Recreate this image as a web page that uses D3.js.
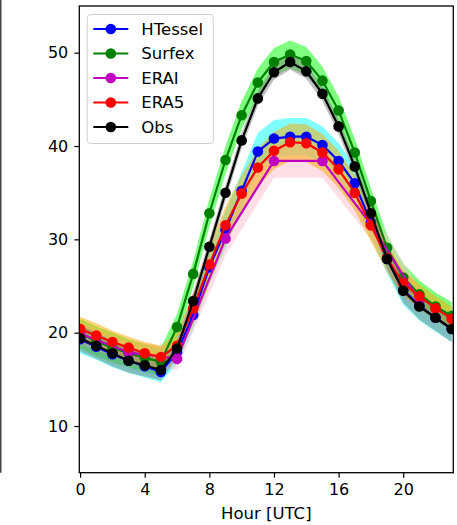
<!DOCTYPE html>
<html>
<head>
<meta charset="utf-8">
<script src="https://cdn.jsdelivr.net/npm/d3@7"></script>
<style>
  html, body { margin: 0; padding: 0; background: #fff; }
  svg { display: block; font-family: "DejaVu Sans", sans-serif; }
</style>
</head>
<body>
<svg id="chart" width="457" height="525"></svg>
<script>
// Hourly 2 m temperature diurnal cycle: model runs vs observations
const hours = d3.range(0, 24);
const hours3 = [0, 3, 6, 9, 12, 15, 18, 21];

const htessel = [19.3, 18.5, 17.7, 17.0, 16.4, 15.8, 17.9, 21.9, 27.0, 31.0, 35.2, 39.4,
                 40.8, 41.0, 41.0, 40.1, 38.4, 36.0, 31.8, 27.9, 24.6, 22.9, 21.6, 20.4];
const surfex  = [19.9, 19.1, 18.4, 17.8, 17.3, 16.9, 20.6, 26.3, 32.8, 38.5, 43.3, 46.8,
                 49.0, 49.8, 49.1, 47.0, 43.8, 39.3, 34.1, 29.1, 25.9, 24.1, 22.8, 21.8];
const erai    = [19.9, 17.9, 17.2, 30.1, 38.4, 38.4, 31.6, 23.4];
const era5    = [20.4, 19.7, 19.0, 18.4, 17.8, 17.4, 18.6, 22.6, 27.3, 31.5, 34.9, 37.7,
                 39.5, 40.4, 40.3, 39.3, 37.5, 35.0, 31.5, 28.0, 25.3, 23.9, 22.6, 21.5];
const obs     = [19.4, 18.6, 17.8, 17.0, 16.5, 16.0, 18.3, 23.4, 29.2, 35.0, 40.6, 45.1,
                 47.9, 49.0, 48.0, 45.6, 42.1, 37.8, 32.8, 27.9, 24.5, 22.8, 21.6, 20.4];

// Spread (half width of the shaded band) for each series
const htesselSpread = [1.5, 1.4, 1.4, 1.3, 1.2, 1.1, 1.2, 1.5, 1.8, 2.0, 2.0, 2.0,
                       2.0, 2.0, 2.0, 2.0, 1.9, 1.8, 1.6, 1.5, 1.6, 1.6, 1.5, 1.4];
const surfexSpread  = [1.6, 1.6, 1.6, 1.5, 1.5, 1.5, 1.4, 1.4, 1.5, 1.5, 1.5, 1.5,
                       1.5, 1.5, 1.5, 1.5, 1.5, 1.5, 1.4, 1.4, 1.5, 1.5, 1.5, 1.5];
const eraiSpread    = [1.2, 1.1, 1.2, 1.8, 1.8, 1.8, 1.6, 1.3];
const era5Spread    = [1.3, 1.3, 1.2, 1.2, 1.2, 1.2, 1.4, 1.7, 2.0, 2.0, 2.0, 2.0,
                       2.0, 2.0, 2.0, 2.0, 2.0, 1.9, 1.7, 1.5, 1.4, 1.3, 1.3, 1.3];
const obsSpread     = [1.4, 1.4, 1.4, 1.3, 1.2, 1.1, 1.0, 0.9, 0.8, 0.8, 0.8, 0.8,
                       0.8, 0.8, 0.8, 0.8, 0.8, 0.8, 0.9, 1.1, 1.3, 1.4, 1.4, 1.4];

const seriesNames = ["HTessel", "Surfex", "ERAI", "ERA5", "Obs"];
const lineColors  = ["#0000ff", "#008000", "#bf00bf", "#ff0000", "#000000"];
const bandColors  = ["#00ffff", "#00ff00", "#ffc0cb", "#ffa500", "#808080"];
const xTicks = [0, 4, 8, 12, 16, 20];
const yTicks = [10, 20, 30, 40, 50];
const xLabel = "Hour [UTC]";

const series = [
  { x: hours,  y: htessel, s: htesselSpread },
  { x: hours,  y: surfex,  s: surfexSpread },
  { x: hours3, y: erai,    s: eraiSpread },
  { x: hours,  y: era5,    s: era5Spread },
  { x: hours,  y: obs,     s: obsSpread }
].map((d, i) => ({
  name: seriesNames[i], color: lineColors[i], band: bandColors[i],
  pts: d.x.map((h, j) => ({ h, v: d.y[j], s: d.s[j] }))
}));

const svg = d3.select("#chart");
const plot = { left: 79.3, right: 453.3, top: 6, bottom: 472.7 };

const x = d3.scaleLinear().domain([-0.05, 23.1]).range([plot.left, plot.right]);
const y = d3.scaleLinear().domain([5, 55]).range([plot.bottom, plot.top]);

// neighbouring panel's right frame edge
svg.append("line")
  .attr("x1", 0.75).attr("x2", 0.75).attr("y1", 0).attr("y2", plot.bottom)
  .attr("stroke", "#444").attr("stroke-width", 1.5);

svg.append("clipPath").attr("id", "plotClip")
  .append("rect")
  .attr("x", plot.left).attr("y", plot.top)
  .attr("width", plot.right - plot.left).attr("height", plot.bottom - plot.top);

const g = svg.append("g").attr("clip-path", "url(#plotClip)");

const area = d3.area()
  .x(d => x(d.h))
  .y0(d => y(d.v - d.s))
  .y1(d => y(d.v + d.s));
const line = d3.line().x(d => x(d.h)).y(d => y(d.v));

// shaded spreads under all lines
series.forEach(sr => {
  g.append("path").datum(sr.pts)
    .attr("d", area)
    .attr("fill", sr.band).attr("fill-opacity", 0.5);
});

// lines with markers
series.forEach(sr => {
  g.append("path").datum(sr.pts)
    .attr("d", line)
    .attr("fill", "none").attr("stroke", sr.color)
    .attr("stroke-width", 2.2).attr("stroke-linejoin", "round");
  g.selectAll(null).data(sr.pts).enter().append("circle")
    .attr("cx", d => x(d.h)).attr("cy", d => y(d.v))
    .attr("r", 5.3).attr("fill", sr.color);
});

// axes
const xAxis = d3.axisBottom(x).tickValues(xTicks).tickSize(5).tickPadding(6);
const yAxis = d3.axisLeft(y).tickValues(yTicks).tickSize(5).tickPadding(6);

const gx = svg.append("g").attr("transform", `translate(0,${plot.bottom})`).call(xAxis);
const gy = svg.append("g").attr("transform", `translate(${plot.left},0)`).call(yAxis);
[gx, gy].forEach(a => {
  a.select(".domain").remove();
  a.selectAll(".tick line").attr("stroke", "#000").attr("stroke-width", 1.2);
  a.selectAll(".tick text").attr("fill", "#000")
    .style("font-size", "16px").style("font-family", "DejaVu Sans");
});

// frame
svg.append("rect")
  .attr("x", plot.left).attr("y", plot.top)
  .attr("width", plot.right - plot.left).attr("height", plot.bottom - plot.top)
  .attr("fill", "none").attr("stroke", "#000").attr("stroke-width", 1.3);

svg.append("text")
  .attr("x", (plot.left + plot.right) / 2).attr("y", 519)
  .attr("text-anchor", "middle")
  .style("font-size", "16.5px").style("font-family", "DejaVu Sans")
  .text(xLabel);

// legend
const lg = svg.append("g");
const lx = 87.3, ly = 14.5, rowH = 24.5;
lg.append("rect")
  .attr("x", lx).attr("y", ly).attr("width", 126).attr("height", 129)
  .attr("rx", 3).attr("fill", "#fff").attr("fill-opacity", 0.8)
  .attr("stroke", "#d0d0d0").attr("stroke-width", 1);
series.forEach((sr, i) => {
  const cy = ly + 14.5 + i * rowH;
  lg.append("line")
    .attr("x1", lx + 6).attr("x2", lx + 41).attr("y1", cy).attr("y2", cy)
    .attr("stroke", sr.color).attr("stroke-width", 2.2);
  lg.append("circle").attr("cx", lx + 23.5).attr("cy", cy).attr("r", 5.3).attr("fill", sr.color);
  lg.append("text")
    .attr("x", lx + 54).attr("y", cy).attr("dy", "0.36em")
    .style("font-size", "16.5px").style("font-family", "DejaVu Sans")
    .text(sr.name);
});
</script>
</body>
</html>
